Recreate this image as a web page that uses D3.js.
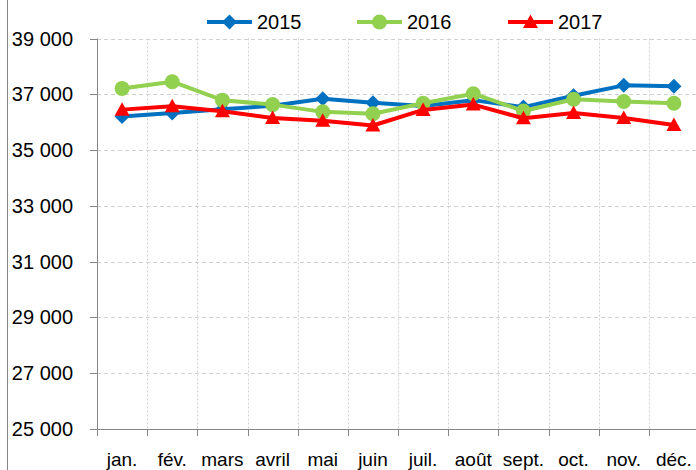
<!DOCTYPE html>
<html>
<head>
<meta charset="utf-8">
<script src="https://cdn.jsdelivr.net/npm/d3@7"></script>
<style>
  body { margin: 0; background: #fff; }
  svg { display: block; font-family: "Liberation Sans", Arial, sans-serif; }
</style>
</head>
<body>
<div id="chart"></div>
<script>
// Data
const months = ["jan.", "fév.", "mars", "avril", "mai", "juin", "juil.", "août", "sept.", "oct.", "nov.", "déc."];
const s2015 = [36200, 36330, 36460, 36590, 36840, 36700, 36580, 36790, 36540, 36950, 37320, 37290];
const s2016 = [37210, 37450, 36790, 36630, 36370, 36300, 36680, 37020, 36400, 36820, 36740, 36680];
const s2017 = [36450, 36570, 36390, 36150, 36050, 35880, 36440, 36630, 36140, 36330, 36150, 35900];
const yTicks = [25000, 27000, 29000, 31000, 33000, 35000, 37000, 39000];

const series = [
  { name: "2015", values: s2015, color: "#0070C0", marker: "diamond" },
  { name: "2016", values: s2016, color: "#92D050", marker: "circle" },
  { name: "2017", values: s2017, color: "#FF0000", marker: "triangle" }
];

const width = 696, height = 470;
const plotLeft = 97, plotRight = 699, plotTop = 38.5, plotBottom = 429;

const svg = d3.select("#chart").append("svg")
  .attr("width", width)
  .attr("height", height);

const x = d3.scaleBand().domain(months).range([plotLeft, plotRight]).padding(0);
const y = d3.scaleLinear().domain([25000, 39000]).range([plotBottom, plotTop]);

const fmt = d3.formatLocale({ decimal: ",", thousands: " ", grouping: [3], currency: ["", ""] }).format(",d");

// outer border (left edge of the chart frame)
svg.append("line")
  .attr("x1", 7.5).attr("x2", 7.5)
  .attr("y1", 0).attr("y2", height)
  .attr("stroke", "#868686").attr("stroke-width", 1);

// horizontal grid
svg.append("g")
  .selectAll("line")
  .data(yTicks.filter(d => d !== 25000))
  .join("line")
  .attr("x1", plotLeft).attr("x2", plotRight)
  .attr("y1", d => Math.round(y(d)) + 0.5)
  .attr("y2", d => Math.round(y(d)) + 0.5)
  .attr("stroke", "#d0d0d0")
  .attr("stroke-dasharray", "4,3");

// vertical grid at category boundaries
svg.append("g")
  .selectAll("line")
  .data(months.slice(1))
  .join("line")
  .attr("x1", d => Math.round(x(d)) + 0.5)
  .attr("x2", d => Math.round(x(d)) + 0.5)
  .attr("y1", plotTop).attr("y2", plotBottom)
  .attr("stroke", "#d0d0d0")
  .attr("stroke-dasharray", "2,2");

// y axis
const yAxis = svg.append("g");
yAxis.append("line")
  .attr("x1", plotLeft + 0.5).attr("x2", plotLeft + 0.5)
  .attr("y1", plotTop).attr("y2", plotBottom + 0.5)
  .attr("stroke", "#868686");
yAxis.selectAll("line.tick")
  .data(yTicks)
  .join("line")
  .attr("class", "tick")
  .attr("x1", plotLeft - 7).attr("x2", plotLeft)
  .attr("y1", d => Math.round(y(d)) + 0.5)
  .attr("y2", d => Math.round(y(d)) + 0.5)
  .attr("stroke", "#868686");
yAxis.selectAll("text")
  .data(yTicks)
  .join("text")
  .attr("x", 73)
  .attr("y", d => y(d))
  .attr("dy", "0.35em")
  .attr("text-anchor", "end")
  .attr("font-size", 20)
  .attr("fill", "#000")
  .text(d => fmt(d));

// x axis
const xAxis = svg.append("g");
xAxis.append("line")
  .attr("x1", plotLeft).attr("x2", plotRight)
  .attr("y1", Math.round(plotBottom) + 0.5).attr("y2", Math.round(plotBottom) + 0.5)
  .attr("stroke", "#868686");
xAxis.selectAll("line.tick")
  .data(months.concat(["end"]))
  .join("line")
  .attr("class", "tick")
  .attr("x1", (d, i) => Math.round(plotLeft + i * x.bandwidth()) + 0.5)
  .attr("x2", (d, i) => Math.round(plotLeft + i * x.bandwidth()) + 0.5)
  .attr("y1", plotBottom).attr("y2", plotBottom + 7)
  .attr("stroke", "#868686");
xAxis.selectAll("text")
  .data(months)
  .join("text")
  .attr("x", d => x(d) + x.bandwidth() / 2)
  .attr("y", 466)
  .attr("text-anchor", "middle")
  .attr("font-size", 19)
  .attr("fill", "#000")
  .text(d => d);

// markers
function drawMarker(g, type, color, size) {
  if (type === "circle") {
    g.append("circle").attr("r", size).attr("fill", color);
  } else if (type === "diamond") {
    const s = size;
    g.append("path").attr("d", `M0,${-s}L${s},0L0,${s}L${-s},0Z`).attr("fill", color);
  } else {
    const s = size;
    g.append("path").attr("d", `M0,${-s}L${s},${s * 0.8}L${-s},${s * 0.8}Z`).attr("fill", color);
  }
}

const line = d3.line()
  .x((d, i) => x(months[i]) + x.bandwidth() / 2)
  .y(d => y(d));

series.forEach(s => {
  const g = svg.append("g");
  g.append("path")
    .attr("d", line(s.values))
    .attr("fill", "none")
    .attr("stroke", s.color)
    .attr("stroke-width", 4)
    .attr("stroke-linejoin", "round");
  s.values.forEach((v, i) => {
    const m = g.append("g")
      .attr("transform", `translate(${x(months[i]) + x.bandwidth() / 2},${y(v)})`);
    drawMarker(m, s.marker, s.color, 7.5);
  });
});

// legend
const legendX = [207, 357, 508];
const legend = svg.append("g");
series.forEach((s, i) => {
  const g = legend.append("g").attr("transform", `translate(${legendX[i]},22)`);
  g.append("line")
    .attr("x1", 0).attr("x2", 45)
    .attr("y1", 0).attr("y2", 0)
    .attr("stroke", s.color)
    .attr("stroke-width", 4);
  const m = g.append("g").attr("transform", "translate(22.5,0)");
  drawMarker(m, s.marker, s.color, 7.5);
  g.append("text")
    .attr("x", 50)
    .attr("y", 0)
    .attr("dy", "0.35em")
    .attr("font-size", 20)
    .attr("fill", "#000")
    .text(s.name);
});
</script>
</body>
</html>
